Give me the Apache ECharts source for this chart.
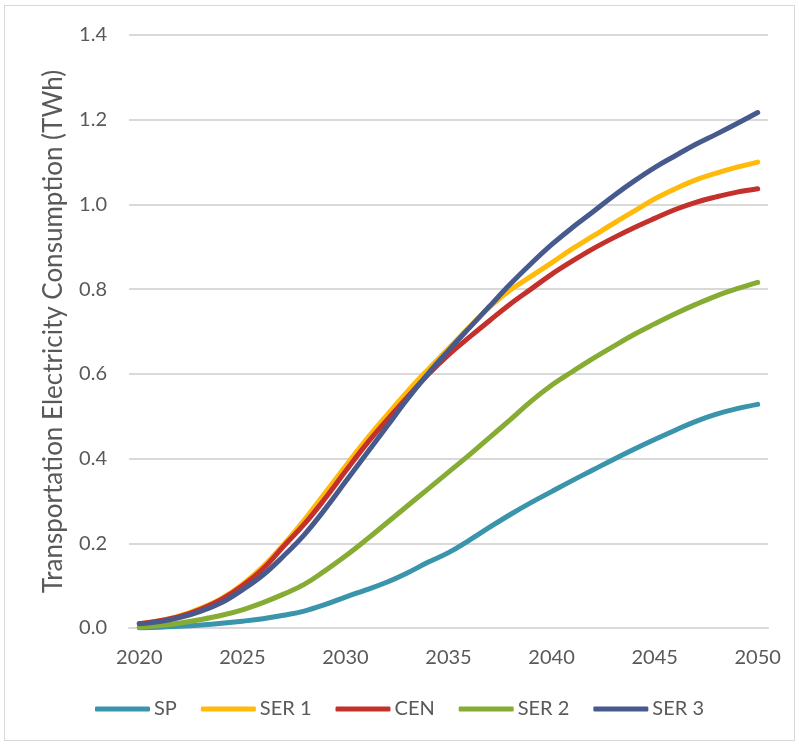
<!DOCTYPE html>
<html>
<head>
<meta charset="utf-8">
<script src="https://cdn.jsdelivr.net/npm/echarts@6/dist/echarts.min.js"></script>
<style>
html,body{margin:0;padding:0;background:#fff;}
#frame{position:absolute;left:4px;top:5px;width:789px;height:734px;border:1px solid #d9d9d9;}
#chart{position:absolute;left:0;top:0;width:799px;height:745px;}
</style>
</head>
<body>
<div id="frame"></div>
<div id="chart"></div>
<script>
const years = [];
for (let y = 2020; y <= 2050; y++) years.push(String(y));

const seriesNames = ['SP', 'SER 1', 'CEN', 'SER 2', 'SER 3'];
const sp   = [0.000,0.002,0.004,0.007,0.011,0.016,0.022,0.030,0.040,0.055,0.073,0.090,0.108,0.130,0.155,0.178,0.207,0.238,0.268,0.296,0.322,0.348,0.373,0.398,0.422,0.445,0.467,0.488,0.505,0.518,0.528];
const ser1 = [0.010,0.017,0.029,0.047,0.070,0.103,0.145,0.197,0.255,0.318,0.382,0.444,0.502,0.558,0.610,0.660,0.710,0.758,0.798,0.830,0.862,0.895,0.925,0.955,0.984,1.013,1.037,1.058,1.074,1.088,1.100];
const cen  = [0.010,0.017,0.028,0.045,0.068,0.100,0.140,0.193,0.245,0.305,0.370,0.433,0.490,0.545,0.598,0.645,0.686,0.726,0.765,0.800,0.835,0.866,0.895,0.921,0.945,0.967,0.988,1.005,1.018,1.029,1.037];
const ser2 = [0.002,0.006,0.012,0.020,0.030,0.043,0.060,0.080,0.103,0.135,0.170,0.208,0.248,0.288,0.328,0.368,0.408,0.450,0.492,0.535,0.573,0.605,0.636,0.665,0.693,0.718,0.742,0.764,0.784,0.801,0.816];
const ser3 = [0.010,0.015,0.025,0.040,0.060,0.090,0.125,0.170,0.220,0.280,0.345,0.410,0.475,0.540,0.600,0.655,0.708,0.760,0.812,0.860,0.905,0.945,0.982,1.020,1.055,1.087,1.115,1.142,1.166,1.191,1.217];
const colors = ['#3A94AB', '#FFBA0A', '#C4302B', '#86AC33', '#475A8E'];
const yAxisTitle = 'Transportation Electricity Consumption (TWh)';

const dataSets = [sp, ser1, cen, ser2, ser3];
const FONT = 'Lato';
const chart = echarts.init(document.getElementById('chart'));
chart.setOption({
  animation: false,
  color: colors,
  grid: {left: 129, right: 31, top: 35, bottom: 117, containLabel: false},
  legend: {
    bottom: 21, left: 'center',
    itemWidth: 55, itemHeight: 5, itemGap: 24,
    icon: 'roundRect',
    textStyle: {color: '#595959', fontSize: 20, fontFamily: FONT, padding: [0,0,0,-1]},
    data: seriesNames
  },
  xAxis: {
    type: 'category', data: years, boundaryGap: true,
    axisLine: {show: true, lineStyle: {color: '#d9d9d9', width: 2}},
    axisTick: {show: false},
    axisLabel: {interval: 4, color: '#595959', fontSize: 20, fontFamily: FONT, margin: 20}
  },
  yAxis: {
    type: 'value', min: 0, max: 1.4, interval: 0.2,
    name: yAxisTitle, nameLocation: 'middle', nameGap: 62, nameRotate: 90,
    nameTextStyle: {color: '#595959', fontSize: 26, fontFamily: FONT},
    axisLabel: {color: '#595959', fontSize: 20, fontFamily: FONT, margin: 22,
      formatter: v => v.toFixed(1)},
    splitLine: {lineStyle: {color: '#d9d9d9', width: 2}},
    axisLine: {show: false}, axisTick: {show: false}
  },
  series: seriesNames.map((n, i) => ({
    name: n, type: 'line', data: dataSets[i], smooth: 0.4,
    showSymbol: false, symbol: 'none',
    lineStyle: {width: 5, cap: 'round', color: colors[i]},
    itemStyle: {color: colors[i]}
  }))
});
</script>
</body>
</html>
